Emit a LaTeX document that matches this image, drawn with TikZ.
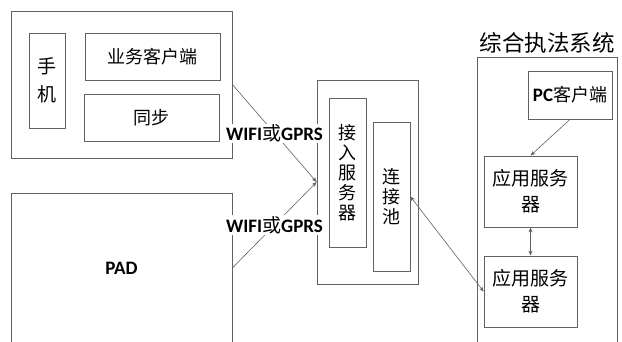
\documentclass[tikz,border=0pt]{standalone}
\usepackage{fontspec}
\setmainfont{Carlito}
\newfontfamily\cjk{Noto Sans CJK SC}
\usetikzlibrary{arrows.meta}

\begin{document}
\begin{tikzpicture}[
  x=1pt, y=-1pt,
  box/.style={draw=black!62, line width=0.8pt, inner sep=0pt, align=center,
    font=\cjk\fontsize{18}{20}\selectfont},
  link/.style={draw=black!62, line width=0.6pt, -{Stealth[length=5pt,width=4pt]}},
  duplex/.style={draw=black!62, line width=0.6pt, {Stealth[length=5pt,width=4pt]}-{Stealth[length=5pt,width=4pt]}},
  tag/.style={fill=white, inner sep=1pt, font=\bfseries\fontsize{19}{20}\selectfont}
]
\useasboundingbox (0,0) rectangle (622,341);

% mobile phone group
\node[box, minimum width=221pt, minimum height=147pt] (phone) at (121.5,84.5) {};
\node[box, minimum width=36pt, minimum height=95pt, font=\cjk\fontsize{19}{28}\selectfont] (shouji) at (47,80.5) {手\\机};
\node[box, minimum width=135pt, minimum height=47pt] (yewu) at (152.5,56.5) {业务客户端};
\node[box, minimum width=135pt, minimum height=47pt] (tongbu) at (151.5,117.5) {同步};

% tablet
\node[box, minimum width=221pt, minimum height=150pt, font=\bfseries\fontsize{19}{20}\selectfont] (pad) at (121.5,268) {PAD};

% access server group
\node[box, minimum width=101pt, minimum height=204pt] (access) at (367.5,182) {};
\node[box, minimum width=37pt, minimum height=149pt] (jieru) at (347.5,172.5) {接\\入\\服\\务\\器};
\node[box, minimum width=37pt, minimum height=149pt] (pool) at (391.5,196.5) {连\\接\\池};

% law enforcement system
\node[box, minimum width=140pt, minimum height=293pt] (system) at (547,203.5) {};
\node[font=\cjk\fontsize{22.5}{24}\selectfont, inner sep=0pt] (title) at (547,43) {综合执法系统};
\node[box, minimum width=84pt, minimum height=48pt] (pc) at (570,95) {{\fontspec{Carlito}\bfseries\fontsize{19}{20}\selectfont PC}客户端};
\node[box, minimum width=93pt, minimum height=71pt, font=\cjk\fontsize{19}{26}\selectfont] (app1) at (530.5,191.5) {应用服务\\器};
\node[box, minimum width=93pt, minimum height=71pt, font=\cjk\fontsize{19}{26}\selectfont] (app2) at (530.5,291.5) {应用服务\\器};

% connectors
\draw[link] (phone.east) -- node[tag] {WIFI{\cjk\mdseries 或}GPRS} (access.west);
\draw[link] (pad.east) -- node[tag] {WIFI{\cjk\mdseries 或}GPRS} (access.west);
\draw[duplex] (pool.east) -- (app2.west);
\draw[link] (pc.south) -- (app1.north);
\draw[duplex] (app1.south) -- (app2.north);
\end{tikzpicture}
\end{document}
